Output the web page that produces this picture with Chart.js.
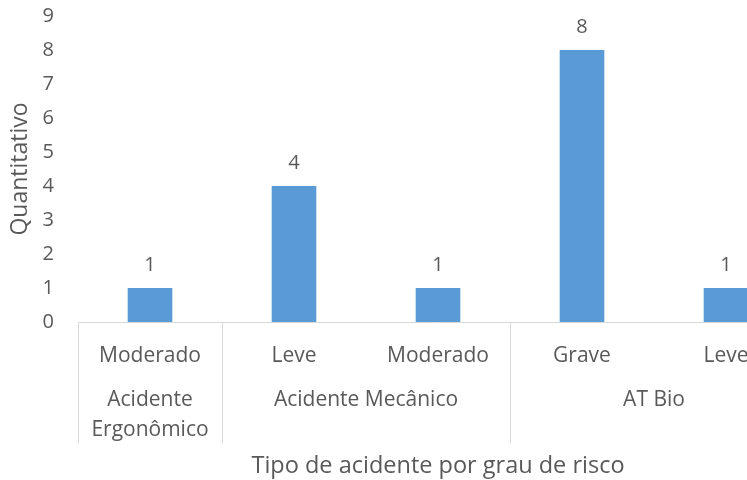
<!DOCTYPE html>
<html>
<head>
<meta charset="utf-8">
<script src="https://cdn.jsdelivr.net/npm/chart.js@4/dist/chart.umd.min.js"></script>
<style>
  html, body { margin: 0; padding: 0; background: #fff; overflow: hidden; }
  #wrap { width: 820px; height: 480px; }
</style>
</head>
<body>
<div id="wrap"><canvas id="chart"></canvas></div>
<script>
const riskLabels = ['Moderado', 'Leve', 'Moderado', 'Grave', 'Leve'];
const accidentCounts = [1, 4, 1, 8, 1];
const groupNames = [['Acidente', 'Ergonômico'], ['Acidente Mecânico'], ['AT Bio']];
const groupStarts = [0, 1, 3];
const groupEnds = [0, 2, 4];
const yTicks = [0, 1, 2, 3, 4, 5, 6, 7, 8, 9];

const FONT = "'Open Sans', sans-serif";
const TEXT = '#595959';
const LINE = '#d9d9d9';

// value labels above bars + two-level category axis
const extras = {
  id: 'extras',
  afterDatasetsDraw(chart) {
    const ctx = chart.ctx;
    const meta = chart.getDatasetMeta(0);
    ctx.save();
    ctx.fillStyle = TEXT;
    ctx.font = '20px ' + FONT;
    ctx.textAlign = 'center';
    ctx.textBaseline = 'bottom';
    meta.data.forEach((bar, i) => {
      ctx.fillText(String(accidentCounts[i]), bar.x, bar.y - 13);
    });
    ctx.restore();
  },
  afterDraw(chart) {
    const ctx = chart.ctx;
    const x = chart.scales.x;
    const area = chart.chartArea;
    const half = (x.getPixelForValue(1) - x.getPixelForValue(0)) / 2;
    ctx.save();
    ctx.strokeStyle = LINE;
    ctx.lineWidth = 1;
    // group separators
    groupStarts.forEach(s => {
      const px = Math.round(x.getPixelForValue(s) - half) + 0.5;
      ctx.beginPath();
      ctx.moveTo(px, area.bottom);
      ctx.lineTo(px, area.bottom + 121);
      ctx.stroke();
    });
    const endPx = Math.round(x.getPixelForValue(groupEnds[groupEnds.length - 1]) + half) + 0.5;
    ctx.beginPath();
    ctx.moveTo(endPx, area.bottom);
    ctx.lineTo(endPx, area.bottom + 121);
    ctx.stroke();
    // group names
    ctx.fillStyle = TEXT;
    ctx.font = '21px ' + FONT;
    ctx.textAlign = 'center';
    ctx.textBaseline = 'middle';
    groupNames.forEach((lines, g) => {
      const cx = (x.getPixelForValue(groupStarts[g]) + x.getPixelForValue(groupEnds[g])) / 2;
      lines.forEach((t, k) => {
        ctx.fillText(t, cx, area.bottom + 78 + k * 30);
      });
    });
    ctx.restore();
  }
};

new Chart(document.getElementById('chart'), {
  type: 'bar',
  data: {
    labels: riskLabels,
    datasets: [{
      data: accidentCounts,
      backgroundColor: '#5b9bd5',
      categoryPercentage: 1,
      barPercentage: 0.31
    }]
  },
  options: {
    responsive: true,
    maintainAspectRatio: false,
    animation: false,
    layout: { padding: { top: 16, right: 22, bottom: 0, left: 0 } },
    plugins: {
      legend: { display: false },
      tooltip: { enabled: false }
    },
    scales: {
      x: {
        grid: { display: false },
        border: { display: true, color: LINE, width: 1 },
        ticks: {
          color: TEXT,
          font: { family: FONT, size: 21 },
          padding: 13,
          maxRotation: 0
        },
        title: {
          display: true,
          text: 'Tipo de acidente por grau de risco',
          color: TEXT,
          font: { family: FONT, size: 23.5 },
          padding: { top: 72, bottom: 0 }
        },
        afterFit(scale) { scale.height = 158; }
      },
      y: {
        min: 0,
        max: 9,
        afterBuildTicks(scale) { scale.ticks = yTicks.map(v => ({ value: v })); },
        grid: { display: false },
        border: { display: false },
        ticks: {
          color: TEXT,
          font: { family: FONT, size: 20 },
          padding: 16
        },
        title: {
          display: true,
          text: 'Quantitativo',
          color: TEXT,
          font: { family: FONT, size: 23 },
          padding: { top: 7, bottom: 2 }
        },
        afterFit(scale) {
          scale.width = 78;
          scale.paddingTop = 0;
          scale.paddingBottom = 0;
        }
      }
    }
  },
  plugins: [extras]
});
</script>
</body>
</html>
